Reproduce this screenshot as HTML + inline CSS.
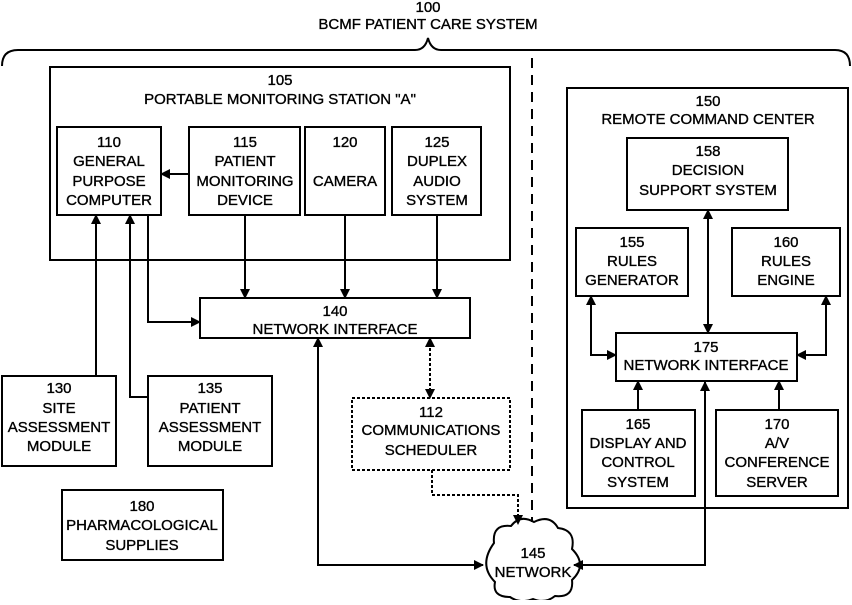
<!DOCTYPE html><html><head><style>body{margin:0;background:#fff}svg text{font-family:"Liberation Sans",Arial,sans-serif;font-size:15px;fill:#000;stroke:#000;stroke-width:0.35;text-anchor:middle}</style></head><body>
<svg width="852" height="600" viewBox="0 0 852 600" xmlns="http://www.w3.org/2000/svg">
<defs><marker id="a" markerWidth="10" markerHeight="10" refX="9" refY="5" orient="auto-start-reverse" markerUnits="userSpaceOnUse"><path d="M0,0 L10,5 L0,10 z" fill="#000"/></marker></defs>
<g fill="none" stroke="#000" stroke-width="2">
<path d="M2,66 Q2,50 18,50 L415,50 Q425,50 428,38 Q431,50 441,50 L835,50 Q850,50 850,66"/>
<line x1="532" y1="58" x2="532" y2="522" stroke-dasharray="10,7"/>
<rect x="50" y="67" width="460" height="193"/>
<rect x="567" y="88" width="281" height="420"/>
<rect x="57" y="127" width="104" height="88"/>
<rect x="189" y="127" width="111" height="88"/>
<rect x="305" y="127" width="80" height="88"/>
<rect x="392" y="127" width="89" height="88"/>
<rect x="200" y="298" width="270" height="40"/>
<rect x="2" y="376" width="114" height="90"/>
<rect x="148" y="376" width="124" height="90"/>
<rect x="352" y="398" width="158" height="72" stroke-dasharray="3,2"/>
<rect x="62" y="490" width="161" height="70"/>
<rect x="627" y="138" width="161" height="72"/>
<rect x="576" y="228" width="112" height="68"/>
<rect x="732" y="228" width="108" height="68"/>
<rect x="616" y="333" width="181" height="48"/>
<rect x="582" y="410" width="113" height="86"/>
<rect x="716" y="410" width="122" height="86"/>
<path d="M494,543 Q492,524 511,526 Q520,514 534,522 Q550,514 558,528 Q576,530 572,549 Q588,565 572,580 Q574,598 555,596 Q545,604 533,599 Q520,604 510,597 Q492,597 495,582 Q478,565 494,543 z"/>
<line x1="189" y1="174" x2="161" y2="174" marker-end="url(#a)"/>
<polyline points="148,215 148,322 200,322" marker-end="url(#a)"/>
<line x1="245" y1="215" x2="245" y2="298" marker-end="url(#a)"/>
<line x1="345" y1="215" x2="345" y2="298" marker-end="url(#a)"/>
<line x1="437" y1="215" x2="437" y2="298" marker-end="url(#a)"/>
<line x1="96" y1="376" x2="96" y2="215" marker-end="url(#a)"/>
<polyline points="148,397 130,397 130,215" marker-end="url(#a)"/>
<line x1="430" y1="338" x2="430" y2="398" stroke-dasharray="3,2" marker-start="url(#a)" marker-end="url(#a)"/>
<polyline points="432,470 432,495 518,495 518,524" stroke-dasharray="3,2" marker-end="url(#a)"/>
<polyline points="318,338 318,565 483,565" marker-start="url(#a)" marker-end="url(#a)"/>
<polyline points="574,565 705,565 705,382" marker-start="url(#a)" marker-end="url(#a)"/>
<line x1="708" y1="210" x2="708" y2="333" marker-start="url(#a)" marker-end="url(#a)"/>
<polyline points="591,296 591,355 616,355" marker-start="url(#a)" marker-end="url(#a)"/>
<polyline points="826,296 826,355 797,355" marker-start="url(#a)" marker-end="url(#a)"/>
<line x1="638" y1="410" x2="638" y2="381" marker-end="url(#a)"/>
<line x1="779" y1="410" x2="779" y2="381" marker-end="url(#a)"/>
</g>
<text x="428" y="12">100</text><text x="428" y="29">BCMF PATIENT CARE SYSTEM</text>
<text x="280" y="85">105</text><text x="280" y="104">PORTABLE MONITORING STATION "A"</text>
<text x="708" y="106">150</text><text x="708" y="124">REMOTE COMMAND CENTER</text>
<text x="109" y="147">110</text><text x="109" y="166">GENERAL</text><text x="109" y="186">PURPOSE</text><text x="109" y="205">COMPUTER</text>
<text x="245" y="147">115</text><text x="245" y="166">PATIENT</text><text x="245" y="186">MONITORING</text><text x="245" y="205">DEVICE</text>
<text x="345" y="147">120</text><text x="345" y="186">CAMERA</text>
<text x="437" y="147">125</text><text x="437" y="166">DUPLEX</text><text x="437" y="186">AUDIO</text><text x="437" y="205">SYSTEM</text>
<text x="335" y="316">140</text><text x="335" y="334">NETWORK INTERFACE</text>
<text x="59" y="393">130</text><text x="59" y="413">SITE</text><text x="59" y="432">ASSESSMENT</text><text x="59" y="451">MODULE</text>
<text x="210" y="393">135</text><text x="210" y="413">PATIENT</text><text x="210" y="432">ASSESSMENT</text><text x="210" y="451">MODULE</text>
<text x="431" y="417">112</text><text x="431" y="435">COMMUNICATIONS</text><text x="431" y="455">SCHEDULER</text>
<text x="142" y="511">180</text><text x="142" y="530">PHARMACOLOGICAL</text><text x="142" y="550">SUPPLIES</text>
<text x="533" y="558">145</text><text x="533" y="577">NETWORK</text>
<text x="708" y="156">158</text><text x="708" y="175">DECISION</text><text x="708" y="195">SUPPORT SYSTEM</text>
<text x="632" y="247">155</text><text x="632" y="266">RULES</text><text x="632" y="285">GENERATOR</text>
<text x="786" y="247">160</text><text x="786" y="266">RULES</text><text x="786" y="285">ENGINE</text>
<text x="706" y="352">175</text><text x="706" y="370">NETWORK INTERFACE</text>
<text x="638" y="429">165</text><text x="638" y="448">DISPLAY AND</text><text x="638" y="467">CONTROL</text><text x="638" y="487">SYSTEM</text>
<text x="777" y="429">170</text><text x="777" y="448">A/V</text><text x="777" y="467">CONFERENCE</text><text x="777" y="487">SERVER</text>
</svg></body></html>
